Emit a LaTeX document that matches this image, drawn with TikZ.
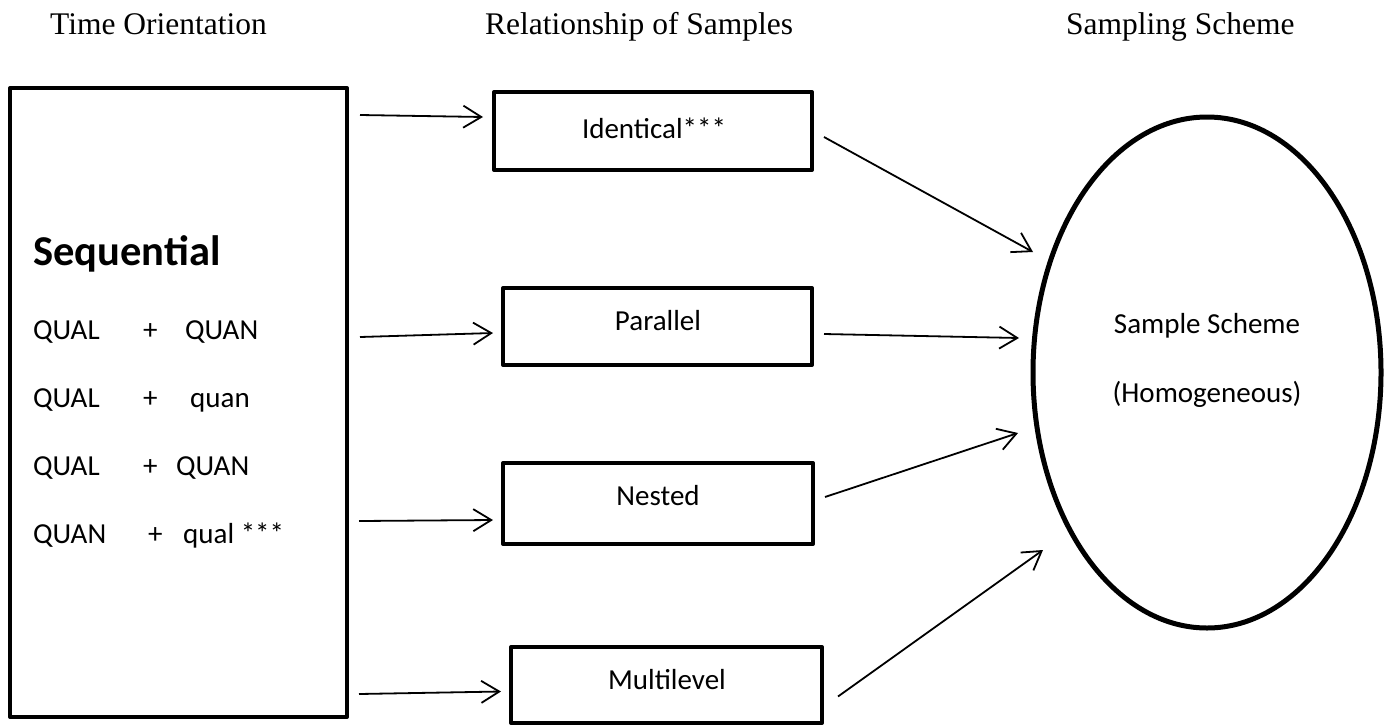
\documentclass[tikz,border=0pt]{standalone}
\usepackage{fontspec}
\setmainfont{Carlito}
\newfontfamily\serifttl{Liberation Serif}
\usetikzlibrary{arrows.meta,shapes.geometric}
\begin{document}
\begin{tikzpicture}[x=1pt,y=-1pt,
  box/.style={draw, line width=4pt, line join=round, inner sep=0pt, anchor=center},
  txt/.style={font=\fontsize{29}{35}\selectfont, inner sep=0pt},
  ttl/.style={font=\serifttl\fontsize{31.5}{38}\selectfont, inner sep=0pt, anchor=base west},
  arr/.style={line width=1.8pt, -{Straight Barb[length=18pt,width=22pt]}},
]
\useasboundingbox (0,0) rectangle (1388,726);
% titles
\node[ttl] (t1) at (50,34) {Time Orientation};
\node[ttl] (t2) at (485,34) {Relationship of Samples};
\node[ttl] (t3) at (1066,34) {Sampling Scheme};
% left box
\node[box, minimum width=337pt, minimum height=629pt] (big) at (178.5,402.5) {};
\node[txt, anchor=base west, font=\bfseries\fontsize{42.5}{50}\selectfont] (seq) at (33,265) {Sequential};
\node[txt, anchor=base west] (r1) at (33,339) {\rlap{QUAL}\hspace{110pt}\rlap{+}\hspace{42pt}QUAN};
\node[txt, anchor=base west] (r2) at (33,407) {\rlap{QUAL}\hspace{110pt}\rlap{+}\hspace{47pt}quan};
\node[txt, anchor=base west] (r3) at (33,475) {\rlap{QUAL}\hspace{110pt}\rlap{+}\hspace{33pt}QUAN};
\node[txt, anchor=base west] (r4) at (33,543) {\rlap{QUAN}\hspace{115pt}\rlap{+}\hspace{35pt}qual ***};
% middle boxes
\node[box, minimum width=318pt, minimum height=78pt] (id) at (653,131) {};
\node[txt, anchor=base] (idt) at (654,138) {Identical***};
\node[box, minimum width=309pt, minimum height=77pt] (par) at (657.5,326.5) {};
\node[txt, anchor=base] (part) at (658,330) {Parallel};
\node[box, minimum width=310pt, minimum height=81pt] (nest) at (658,503.5) {};
\node[txt, anchor=base] (nestt) at (658,505) {Nested};
\node[box, minimum width=311pt, minimum height=76pt] (multi) at (666.5,685) {};
\node[txt, anchor=base] (multit) at (667,689) {Multilevel};
% ellipse
\node[draw, ellipse, line width=5pt, minimum width=348pt, minimum height=511pt, inner sep=0pt] (ell) at (1207,372.5) {};
\node[txt, anchor=base] (s1) at (1207,333) {Sample Scheme};
\node[txt, anchor=base] (s2) at (1207,402) {(Homogeneous)};
% arrows left -> middle
\draw[arr] ([shift={(11,29)}]big.north east) -- ([shift={(-9,-14)}]id.west);
\draw[arr] ([shift={(11,-65.5)}]big.east) -- ([shift={(-8,6.5)}]par.west);
\draw[arr] ([shift={(10,118.5)}]big.east) -- ([shift={(-8,16.5)}]nest.west);
\draw[arr] ([shift={(10,-25)}]big.south east) -- ([shift={(-8,6.5)}]multi.west);
% arrows middle -> ellipse
\draw[arr] ([shift={(10,6)}]id.east) -- ([shift={(-174,-120.5)}]ell.center);
\draw[arr] ([shift={(10,7.5)}]par.east) -- ([shift={(-188,-34.5)}]ell.center);
\draw[arr] ([shift={(10,-6.5)}]nest.east) -- ([shift={(-189,60.5)}]ell.center);
\draw[arr] ([shift={(14,11.5)}]multi.east) -- ([shift={(-164,177.5)}]ell.center);
\end{tikzpicture}
\end{document}
